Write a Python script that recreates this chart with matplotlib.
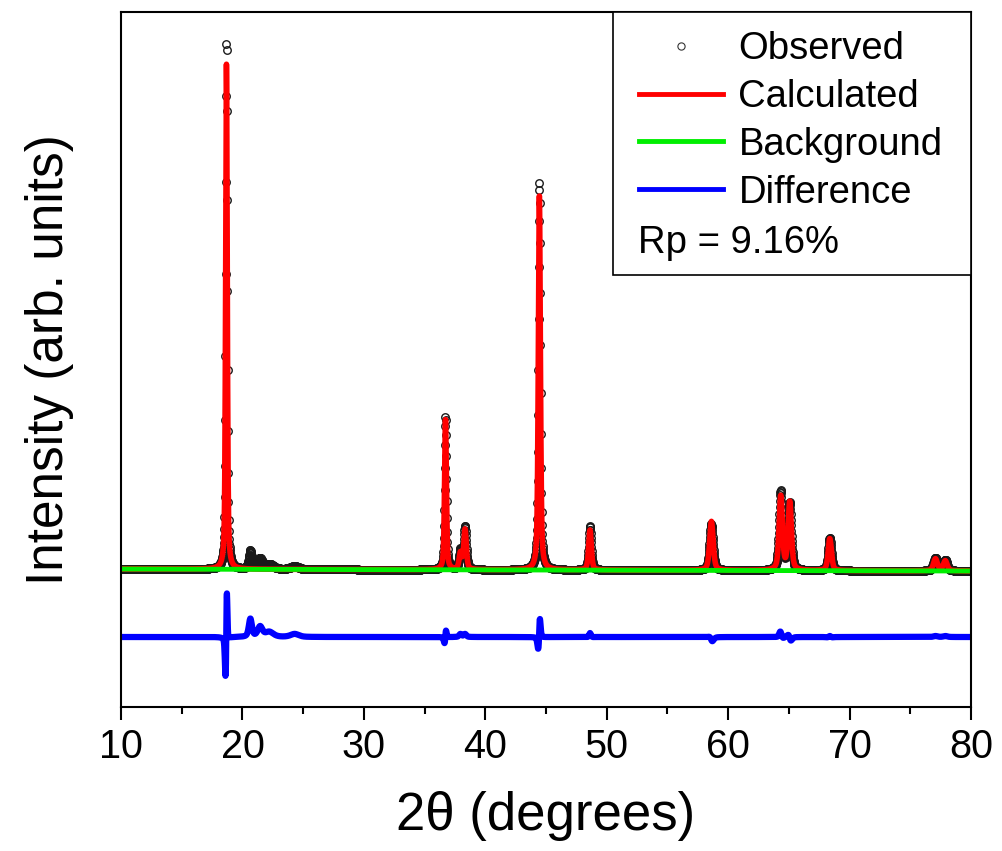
import numpy as np
import matplotlib
matplotlib.use("Agg")
from matplotlib import pyplot as plt
from matplotlib.lines import Line2D
from matplotlib.patches import Rectangle

plt.rcParams["font.family"] = ["Liberation Sans", "DejaVu Sans"]

# 2theta grid of the scan
two_theta = np.arange(10.0, 80.0001, 0.02)

# background line (arb. units)
bg_x = [10.0, 80.0]
bg_y = [0.0, -2.0]

# calculated reflections: position, height, fwhm
calc_pos = [18.68, 36.72, 37.95, 38.33, 44.45, 48.62, 58.62, 64.33, 65.07, 68.37, 77.07, 77.88]
calc_hgt = [505, 150, 16, 40, 377, 40, 49, 74, 68, 32, 12, 10]
calc_fwhm = [0.16, 0.18, 0.25, 0.25, 0.20, 0.26, 0.34, 0.32, 0.32, 0.32, 0.38, 0.38]

# observed reflections (incl. small unindexed bumps near 21 deg)
obs_pos = [18.688, 36.725, 37.95, 38.33, 44.455, 48.62, 58.61, 64.325, 65.06, 68.37, 77.07, 77.88,
           20.65, 21.45, 22.2, 24.3]
obs_hgt = [530, 153, 19, 43, 388, 44, 46, 79, 67, 33, 13, 11,
           18, 10, 5, 3]
obs_fwhm = [0.15, 0.175, 0.25, 0.25, 0.195, 0.25, 0.34, 0.31, 0.32, 0.31, 0.38, 0.38,
            0.30, 0.45, 0.8, 0.8]

diff_offset = -68


def profile(pos, hgt, fwhm, eta=0.5):
    y = np.zeros_like(two_theta)
    for p, h, w in zip(pos, hgt, fwhm):
        d = (two_theta - p) / (w / 2)
        gauss = np.exp(-np.log(2) * d ** 2)
        lor = 1.0 / (1.0 + d ** 2)
        y += h * (eta * lor + (1 - eta) * gauss)
    return y


background = np.interp(two_theta, bg_x, bg_y)
calculated = background + profile(calc_pos, calc_hgt, calc_fwhm)
observed = background + profile(obs_pos, obs_hgt, obs_fwhm)
difference = observed - calculated + diff_offset

fig = plt.figure(figsize=(10.02, 8.51), dpi=100)
ax = fig.add_axes([0.1208, 0.1692, 0.8483, 0.8167])

ax.plot(two_theta, observed, "o", ms=5.4, mfc="none", mec="#1a1a1a", mew=1.0,
        label="Observed")
ax.plot(two_theta, calculated, color="#ff0000", lw=4, label="Calculated")
ax.plot(two_theta, background, color="#00ee00", lw=3.5, label="Background")
ax.plot(two_theta, difference, color="#0000ff", lw=4.5, label="Difference")

ax.set_xlim(10, 80)
ax.set_ylim(-138, 557)
ax.set_xticks(np.arange(10, 81, 10))
ax.set_xticks(np.arange(15, 80, 10), minor=True)
ax.set_yticks([])
ax.tick_params(axis="x", which="major", direction="out", length=9, width=1.5,
               labelsize=28.5, pad=6)
ax.tick_params(axis="x", which="minor", direction="out", length=5, width=1.5)
for sp in ax.spines.values():
    sp.set_linewidth(1.5)

ax.set_xlabel("2\u03b8 (degrees)", fontsize=38, labelpad=18)
ax.set_ylabel("Intensity (arb. units)", fontsize=37, labelpad=34)

# legend box with Rp value
ax.add_patch(Rectangle((0.579, 0.6216), 0.421, 0.3784, transform=ax.transAxes,
                       facecolor="white", edgecolor="black", lw=1.2, zorder=5))
handles = [
    Line2D([], [], marker="o", ls="none", ms=5.2, mfc="none", mec="#333333", mew=0.8),
    Line2D([], [], color="#ff0000", lw=3.5),
    Line2D([], [], color="#00ee00", lw=3.5),
    Line2D([], [], color="#0000ff", lw=3.5),
]
leg = ax.legend(handles, ["Observed", "Calculated", "Background", "Difference"],
                loc="upper left", bbox_to_anchor=(0.587, 1.0), frameon=False,
                fontsize=27.5, handlelength=2.2, handletextpad=0.4,
                labelspacing=0.31, borderaxespad=0.1)
leg.set_zorder(6)
ax.text(0.608, 0.668, "Rp = 9.16%", transform=ax.transAxes, fontsize=27.5,
        ha="left", va="center", zorder=7)

fig.savefig("out.png", dpi=100)
